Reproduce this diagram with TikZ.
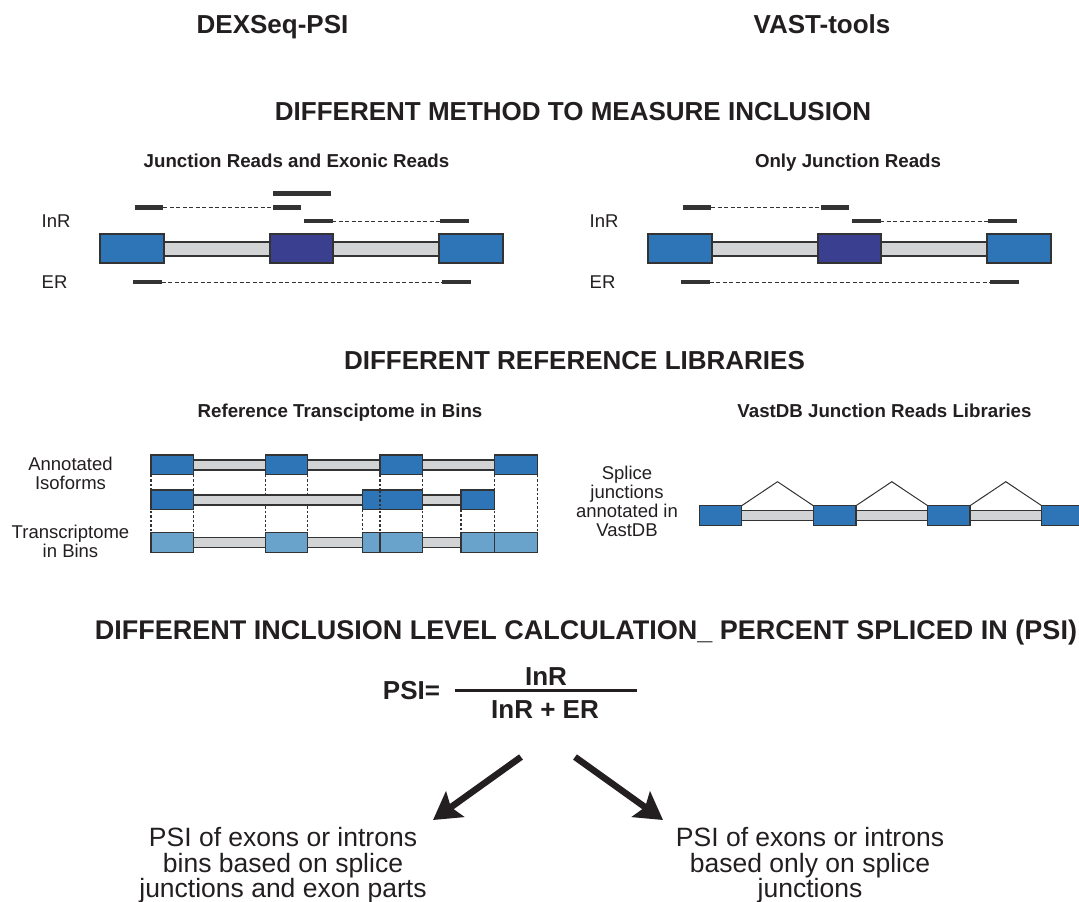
\documentclass[tikz,border=0pt]{standalone}
\usepackage{fontspec}
\setmainfont{Liberation Sans}
\usetikzlibrary{arrows.meta}

\definecolor{ink}{HTML}{231F20}
\definecolor{exonblue}{HTML}{2E75B8}
\definecolor{exondark}{HTML}{3B3F90}
\definecolor{binblue}{HTML}{69A3CC}
\definecolor{introngrey}{HTML}{D1D3D4}
\definecolor{edge}{HTML}{333333}

\tikzset{
  heading/.style={font=\fontsize{26}{26}\selectfont\bfseries, text=ink, anchor=base, inner sep=0pt},
  subheading/.style={font=\fontsize{18.7}{19}\selectfont\bfseries, text=ink, anchor=base, inner sep=0pt},
  sidetext/.style={font=\fontsize{18.5}{19}\selectfont, text=ink, anchor=base, inner sep=0pt},
  bodytext/.style={font=\fontsize{26.5}{26}\selectfont, text=ink, anchor=base, inner sep=0pt},
  exon/.style={draw=edge, line width=1.3pt},
  intron/.style={fill=introngrey, draw=edge, line width=1.3pt},
  readbar/.style={draw=edge, line width=4.8pt},
  readgap/.style={draw=edge, line width=0.9pt, dash pattern=on 4pt off 2.5pt},
  binguide/.style={draw=edge, line width=1.3pt, dash pattern=on 2.5pt off 2pt},
  junction/.style={draw=edge, line width=1pt},
  bigarrow/.style={draw=ink, line width=6.5pt, -{Stealth[length=27pt,width=31pt,inset=5pt]}},
  % three-exon gene model with inclusion (InR) and exclusion (ER) reads
  readpanel/.pic={
    \node[sidetext, anchor=base west] (-inr) at (41.5,227.5) {InR};
    \node[sidetext, anchor=base west] (-er) at (41.5,288.5) {ER};
    \path[intron] (164,242) rectangle (439,256);
    \path[exon, fill=exonblue] (100,234) rectangle (164,263);
    \path[exon, fill=exondark] (270,234) rectangle (333,263);
    \path[exon, fill=exonblue] (439,234) rectangle (503,263);
    % upstream junction read
    \draw[readgap] (163,207.5) -- (273,207.5);
    \draw[readbar] (135,207.5) -- (163,207.5);
    \draw[readbar] (273,207.5) -- (301,207.5);
    % downstream junction read
    \draw[readgap] (332,221) -- (440,221);
    \draw[readbar] (304,221) -- (332.5,221);
    \draw[readbar] (440,221) -- (468.5,221);
    % exclusion read
    \draw[readgap] (161.5,282) -- (442,282);
    \draw[readbar] (133,282) -- (161.5,282);
    \draw[readbar] (442,282) -- (471,282);
  }
}

\begin{document}
\begin{tikzpicture}[x=1pt,y=-1pt]
\path[fill=white, use as bounding box] (0,0) rectangle (1079,902);

% column titles
\node[heading] (dexseq) at (272.5,33.5) {DEXSeq-PSI};
\node[heading] (vast) at (822,33.5) {VAST-tools};

% ---------- inclusion measurement ----------
\node[heading] (hmethod) at (573,120.5) {DIFFERENT METHOD TO MEASURE INCLUSION};
\node[subheading] (sjunex) at (296.5,167) {Junction Reads and Exonic Reads};
\node[subheading] (sjun) at (848,167) {Only Junction Reads};

\pic (dex) at (0,0) {readpanel};
\draw[readbar] (273,193.5) -- (331,193.5);
\pic (vst) at (548,0) {readpanel};

% ---------- reference libraries ----------
\node[heading] (hlib) at (574.5,369.5) {DIFFERENT REFERENCE LIBRARIES};
\node[subheading] (sbins) at (340,417) {Reference Transciptome in Bins};
\node[subheading] (svast) at (884.5,417) {VastDB Junction Reads Libraries};

\node[sidetext] (annot1) at (70.5,470) {Annotated};
\node[sidetext] (annot2) at (70.5,489) {Isoforms};
\node[sidetext] (bins1) at (70.5,538.5) {Transcriptome};
\node[sidetext] (bins2) at (70.5,557) {in Bins};

% bin boundaries
\foreach \x in {151,193.3,265.7,307.7,380,422.7,494.5,537.3}
  \draw[binguide] (\x,474.5) -- (\x,532.5);
\foreach \x in {362.7,461}
  \draw[binguide] (\x,509.5) -- (\x,532.5);

% isoform 1
\path[intron] (193.3,460) rectangle (495,470);
\foreach \a/\b in {151/193.3,265.7/307.7,380/422.7,494.5/537.3}
  \path[exon, fill=exonblue] (\a,455) rectangle (\b,474.5);
% isoform 2
\path[intron] (193.3,495) rectangle (461,505);
\foreach \a/\b in {151/193.3,362.7/422.7,461/494.5}
  \path[exon, fill=exonblue] (\a,490) rectangle (\b,509.5);
\draw[binguide] (380,490) -- (380,509.5);
% bins
\path[intron] (193.3,537.5) rectangle (494.5,547.5);
\foreach \a/\b in {151/193.3,265.7/307.7,362.7/380,380/422.7,461/494.5,494.5/537.3}
  \path[exon, fill=binblue] (\a,532.5) rectangle (\b,552.5);

% VastDB junction library
\node[sidetext] (sp1) at (627,479) {Splice};
\node[sidetext] (sp2) at (627,498) {junctions};
\node[sidetext] (sp3) at (627,517) {annotated in};
\node[sidetext] (sp4) at (627,536) {VastDB};

\path[intron] (741.7,510.7) rectangle (1090,520.7);
\foreach \a/\b in {699.3/741.7,813.3/856,927.7/970,1041.7/1090}
  \path[exon, fill=exonblue] (\a,505.7) rectangle (\b,525.7);
\draw[junction] (741.7,505.7) -- (777.5,481.7) -- (813.3,505.7);
\draw[junction] (856,505.7) -- (891.8,481.7) -- (927.7,505.7);
\draw[junction] (970,505.7) -- (1005.8,481.7) -- (1041.7,505.7);

% ---------- PSI ----------
\node[heading, font=\fontsize{27}{27}\selectfont\bfseries] (hpsi) at (586,639.5)
  {DIFFERENT INCLUSION LEVEL CALCULATION\_ PERCENT SPLICED IN (PSI)};

\node[heading] (psi) at (411.5,699) {PSI=};
\node[heading] (num) at (546,685.5) {InR};
\node[heading] (den) at (545,718) {InR + ER};
\draw[ink, line width=3pt] (455,690.5) -- (637,690.5);

\node[bodytext] (l1) at (283,846) {PSI of exons or introns};
\node[bodytext] (l2) at (283,872) {bins based on splice};
\node[bodytext] (l3) at (283,897.5) {junctions and exon parts};
\node[bodytext] (r1) at (810,846) {PSI of exons or introns};
\node[bodytext] (r2) at (810,872) {based only on splice};
\node[bodytext] (r3) at (810,897.5) {junctions};

\coordinate (lfrom) at (521,757);
\coordinate (lto) at (433,820);
\coordinate (rfrom) at (575,757);
\coordinate (rto) at (663,820);
\draw[bigarrow] (lfrom) -- (lto);
\draw[bigarrow] (rfrom) -- (rto);
\end{tikzpicture}
\end{document}
